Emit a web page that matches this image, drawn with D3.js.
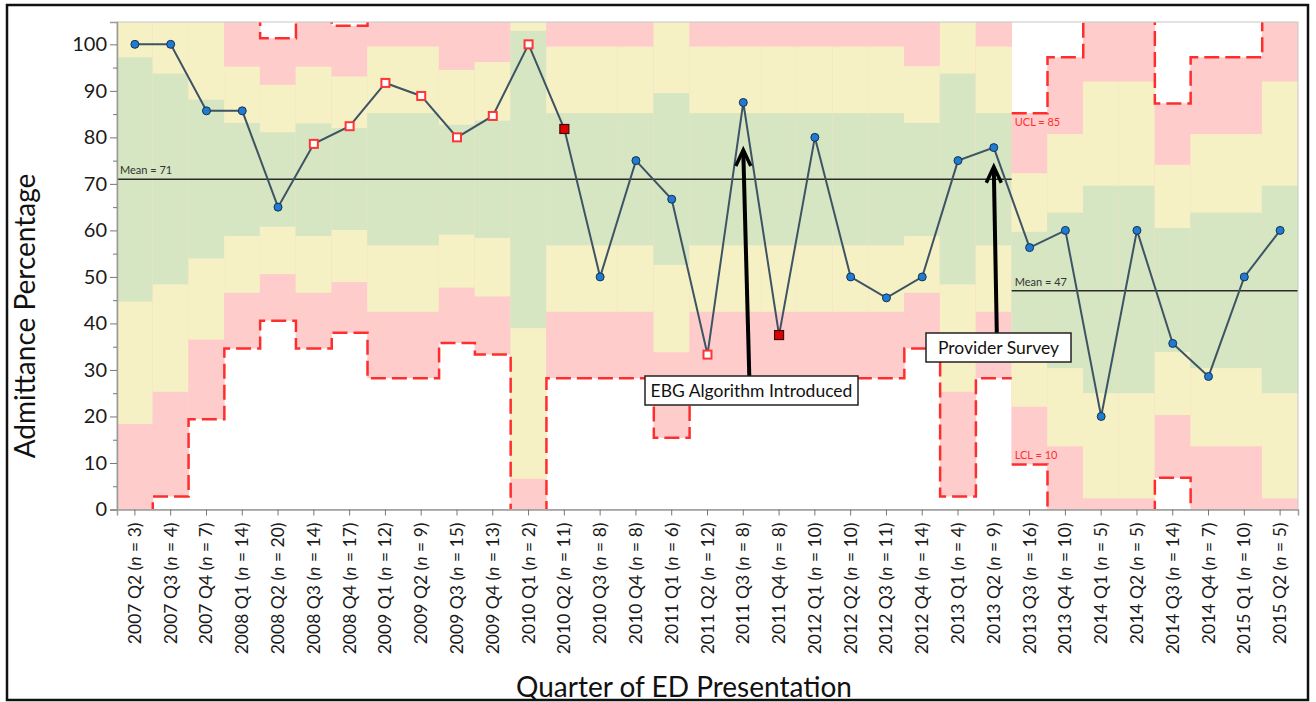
<!DOCTYPE html>
<html><head><meta charset="utf-8">
<script src="https://cdn.jsdelivr.net/npm/d3@7"></script>
<style>
body{margin:0;background:#fff;}
svg{display:block;}
text{font-family:Lato,"Open Sans",sans-serif;}
</style></head><body>
<svg id="chart" width="1316" height="702"></svg>
<script>
// ---------- data ----------
const quarters = ["2007 Q2","2007 Q3","2007 Q4","2008 Q1","2008 Q2","2008 Q3","2008 Q4","2009 Q1","2009 Q2","2009 Q3","2009 Q4","2010 Q1","2010 Q2","2010 Q3","2010 Q4","2011 Q1","2011 Q2","2011 Q3","2011 Q4","2012 Q1","2012 Q2","2012 Q3","2012 Q4","2013 Q1","2013 Q2","2013 Q3","2013 Q4","2014 Q1","2014 Q2","2014 Q3","2014 Q4","2015 Q1","2015 Q2"];
const sampleSizes = [3,4,7,14,20,14,17,12,9,15,13,2,11,8,8,6,12,8,8,10,10,11,14,4,9,16,10,5,5,14,7,10,5];
const admitPct = [100,100,85.7,85.7,65,78.6,82.4,91.7,88.9,80,84.6,100,81.8,50,75,66.7,33.3,87.5,37.5,80,50,45.5,50,75,77.8,56.3,60,20,60,35.7,28.6,50,60];
// c = in-control circle, o = open red square (test flag), f = filled red square (beyond limits)
const markerKind = ["c","c","c","c","c","o","o","o","o","o","o","o","f","c","c","c","o","c","f","c","c","c","c","c","c","c","c","c","c","c","c","c","c"];
// zone limits per quarter (those beyond the axis estimated)
const lcl    = [-8,2.8,19.4,34.6,40.6,34.6,38.0,28.2,28.2,35.8,33.3,-25,28.2,28.2,28.2,15.4,28.2,28.2,28.2,28.2,28.2,28.2,34.6,2.8,28.2,9.7,-3.5,-20,-20,6.8,-3.5,-3.5,-20];
const lower2 = [18.4,25.3,36.5,46.6,50.6,46.6,48.9,42.5,42.5,47.7,45.8,6.6,42.5,42.5,42.5,33.8,42.5,42.5,42.5,42.5,42.5,42.5,46.6,25.3,42.5,22.1,13.6,2.4,2.4,20.3,13.6,13.6,2.4];
const lower1 = [44.7,48.4,54.0,58.8,60.8,58.8,60.1,56.8,56.8,59.1,58.4,39.0,56.8,56.8,56.8,52.6,56.8,56.8,56.8,56.8,56.8,56.8,58.8,48.4,56.8,34.4,30.4,25.0,25.0,33.9,30.4,30.4,25.0];
const upper1 = [97.2,93.7,88.1,83.1,81.1,83.0,82.0,85.2,85.2,82.7,83.6,102.9,85.2,85.2,85.2,89.5,85.2,85.2,85.2,85.2,85.2,85.2,83.1,93.7,85.2,59.7,63.8,69.6,69.6,60.5,63.8,63.8,69.6];
const upper2 = [123,116,105.5,95.2,91.3,95.2,93.1,99.5,99.5,94.5,96.2,135,99.5,99.5,99.5,108,99.5,99.5,99.5,99.5,99.5,99.5,95.3,116,99.5,72.3,80.7,92.0,92.0,74.1,80.7,80.7,92.0];
const ucl    = [150,139,122,107.4,101.3,107.4,104.0,114,114,106.3,108.8,167,114,114,114,127,114,114,114,114,114,114,107.4,139,114,85.2,97.2,114,114,87.3,97.2,97.2,114];
const phaseFirst = [0,25];
const phaseLast  = [24,32];
const phaseMean  = [71,47];
const meanLabels = ["Mean = 71","Mean = 47"];
const limitLabels = ["UCL = 85","LCL = 10"];
const limitLabelValues = [85.2, 9.7];
const yTicks = [0,10,20,30,40,50,60,70,80,90,100];
const yMinorTicks = [5,15,25,35,45,55,65,75,85,95];
const annotationText = ["EBG Algorithm Introduced","Provider Survey"];
const annotationQuarter = ["2011 Q3","2013 Q2"];
const annotationTip = [77.3, 73.7];

// ---------- layout ----------
const svg = d3.select("#chart");
const L = 117, R = 1298, T = 22, B = 509.5;
const x = d3.scaleBand().domain(quarters).range([L, R]).padding(0);
const y = d3.scaleLinear().domain([0, 104.8]).range([B, T]);
const bw = x.bandwidth();
const cx = q => x(q) + bw / 2;
const clampV = v => Math.max(0, Math.min(104.8, v));

const colGreen = "#d6e5c2", colYellow = "#f6f0c5", colPink = "#ffcccc", colRed = "#ff2e2e";

// outer frame
svg.append("rect").attr("x", 7).attr("y", 5).attr("width", 1301).attr("height", 695)
  .attr("fill", "none").attr("stroke", "#111").attr("stroke-width", 2.5);

svg.append("defs").append("clipPath").attr("id", "plotclip")
  .append("rect").attr("x", L).attr("y", T).attr("width", R - L).attr("height", B - T);

const plot = svg.append("g").attr("clip-path", "url(#plotclip)");

// zone bands
quarters.forEach((q, i) => {
  const layers = [[lcl[i], ucl[i], colPink], [lower2[i], upper2[i], colYellow], [lower1[i], upper1[i], colGreen]];
  layers.forEach(([lo, hi, c]) => {
    const y0 = y(clampV(hi)), y1 = y(clampV(lo));
    if (y1 - y0 <= 0) return;
    plot.append("rect").attr("x", x(q) - 0.3).attr("width", bw + 0.6)
      .attr("y", y0).attr("height", y1 - y0).attr("fill", c);
  });
});

// dashed control limits per phase
const stepLine = d3.line().x(d => d[0]).y(d => y(Math.max(-3, Math.min(108, d[1])))).curve(d3.curveStepAfter);
phaseFirst.forEach((f, p) => {
  const idx = d3.range(f, phaseLast[p] + 1);
  [lcl, ucl].forEach(arr => {
    const pts = idx.map(i => [x(quarters[i]), arr[i]]);
    pts.push([x(quarters[phaseLast[p]]) + bw, arr[phaseLast[p]]]);
    plot.append("path").attr("d", stepLine(pts)).attr("fill", "none")
      .attr("stroke", colRed).attr("stroke-width", 2.5).attr("stroke-dasharray", "15,6");
  });
});

// mean lines
phaseFirst.forEach((f, p) => {
  const x0 = x(quarters[f]), x1 = x(quarters[phaseLast[p]]) + bw;
  plot.append("line").attr("x1", x0).attr("x2", x1).attr("y1", y(phaseMean[p])).attr("y2", y(phaseMean[p]))
    .attr("stroke", "#2a2a2a").attr("stroke-width", 1.5);
  svg.append("text").attr("x", x0 + 3).attr("y", y(phaseMean[p]) - 5).attr("font-size", 11)
    .attr("fill", "#333").text(meanLabels[p]);
});

// UCL / LCL labels for the second phase
limitLabels.forEach((t, k) => {
  const x0 = x(quarters[phaseFirst[1]]) + 3;
  const yy = k === 0 ? y(limitLabelValues[k]) + 13 : y(limitLabelValues[k]) - 5;
  svg.append("text").attr("x", x0).attr("y", yy).attr("font-size", 11).attr("fill", colRed).text(t);
});

// plot border
svg.append("rect").attr("x", L).attr("y", T).attr("width", R - L).attr("height", B - T)
  .attr("fill", "none").attr("stroke", "#c8c8c8").attr("stroke-width", 1);

// data line
const dataLine = d3.line().x((d, i) => cx(quarters[i])).y(d => y(d));
svg.append("path").attr("d", dataLine(admitPct)).attr("fill", "none")
  .attr("stroke", "#3d5464").attr("stroke-width", 2);

// markers
admitPct.forEach((v, i) => {
  const px = cx(quarters[i]), py = y(v), k = markerKind[i];
  if (k === "c") {
    svg.append("circle").attr("cx", px).attr("cy", py).attr("r", 4)
      .attr("fill", "#1f7bd4").attr("stroke", "#17324a").attr("stroke-width", 1);
  } else if (k === "o") {
    svg.append("rect").attr("x", px - 4).attr("y", py - 4).attr("width", 8).attr("height", 8)
      .attr("fill", "#fff").attr("stroke", "#ff3535").attr("stroke-width", 2);
  } else {
    svg.append("rect").attr("x", px - 4.5).attr("y", py - 4.5).attr("width", 9).attr("height", 9)
      .attr("fill", "#e00000").attr("stroke", "#3a0d0d").attr("stroke-width", 1.2);
  }
});

// y axis
const yAxis = svg.append("g").attr("transform", `translate(${L},0)`)
  .call(d3.axisLeft(y).tickValues(yTicks).tickSize(7).tickPadding(3).tickFormat(d3.format("d")));
yAxis.select(".domain").attr("stroke", "#9a9a9a").attr("stroke-width", 1.5);
yAxis.selectAll(".tick line").attr("stroke", "#777");
yAxis.selectAll("text").attr("font-size", 20).attr("fill", "#1a1a1a").style("font-family", "Lato");
const yMinor = svg.append("g").attr("transform", `translate(${L},0)`)
  .call(d3.axisLeft(y).tickValues(yMinorTicks).tickSize(4).tickFormat(""));
yMinor.select(".domain").remove();
yMinor.selectAll(".tick line").attr("stroke", "#777");

// x axis
const xAxis = svg.append("g").attr("transform", `translate(0,${B})`)
  .call(d3.axisBottom(x).tickSize(6).tickFormat(""));
xAxis.select(".domain").attr("stroke", "#9a9a9a").attr("stroke-width", 1.5);
xAxis.selectAll(".tick line").attr("stroke", "#777");
quarters.forEach((q, i) => {
  const t = svg.append("text").attr("transform", `translate(${cx(q) + 6},${B + 13}) rotate(-90)`)
    .attr("text-anchor", "end").attr("font-size", 17.5).attr("fill", "#1a1a1a");
  t.append("tspan").text(q + " (");
  t.append("tspan").attr("font-style", "italic").text("n");
  t.append("tspan").text(" = " + sampleSizes[i] + ")");
});

// axis titles
svg.append("text").attr("transform", `translate(35,316) rotate(-90)`)
  .attr("text-anchor", "middle").attr("font-size", 28).attr("fill", "#111").text("Admittance Percentage");
svg.append("text").attr("x", 684).attr("y", 697).attr("text-anchor", "middle")
  .attr("font-size", 28).attr("fill", "#111").text("Quarter of ED Presentation");

// annotations
const boxes = [{cx: 751.5, top: 376, w: 213, h: 29}, {cx: 998.5, top: 333, w: 145, h: 29}];
annotationText.forEach((t, k) => {
  const tipX = cx(annotationQuarter[k]), tipY = y(annotationTip[k]);
  const b = boxes[k];
  const baseX = tipX + (k === 0 ? 6 : 3);
  svg.append("line").attr("x1", baseX).attr("y1", b.top).attr("x2", tipX).attr("y2", tipY + 2)
    .attr("stroke", "#000").attr("stroke-width", 4);
  svg.append("path").attr("d", `M${tipX - 7.5},${tipY + 16} L${tipX},${tipY} L${tipX + 7.5},${tipY + 16}`)
    .attr("fill", "none").attr("stroke", "#000").attr("stroke-width", 3.5);
  svg.append("rect").attr("x", b.cx - b.w / 2).attr("y", b.top).attr("width", b.w).attr("height", b.h)
    .attr("fill", "#fff").attr("stroke", "#222").attr("stroke-width", 1.5);
  svg.append("text").attr("x", b.cx).attr("y", b.top + 21).attr("text-anchor", "middle")
    .attr("font-size", 17.5).attr("fill", "#111").text(t);
});
</script>
</body></html>
